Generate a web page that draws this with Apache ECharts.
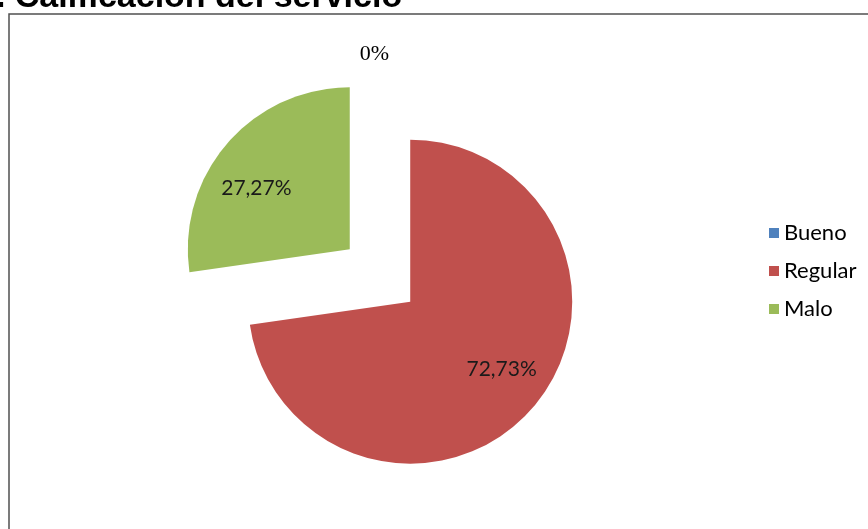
<!DOCTYPE html>
<html>
<head>
<meta charset="utf-8">
<script src="https://cdn.jsdelivr.net/npm/echarts@6/dist/echarts.min.js"></script>
<style>html,body{margin:0;padding:0;background:#fff;}#c{width:868px;height:529px;}</style>
</head>
<body>
<div id="c"></div>
<script>
const titleText = '1. Calificación del servicio';
const categories = ['Bueno', 'Regular', 'Malo'];
const values = [0, 72.73, 27.27];
const valueLabels = ['0%', '72,73%', '27,27%'];
const colors = ['#4F81BD', '#C0504D', '#9BBB59'];

const chart = echarts.init(document.getElementById('c'), null, {renderer: 'canvas'});

const mainData = categories.map((name, i) => ({
  name: name,
  value: values[i],
  selected: true,
  itemStyle: {color: colors[i]},
  label: i === 0 ? {
    show: true, position: 'outside', formatter: valueLabels[i],
    fontFamily: 'Liberation Serif', fontSize: 22, color: '#000'
  } : {show: false},
  labelLine: {show: false, length: 19, length2: -14}
}));

const labelData = categories.map((name, i) => ({
  name: name,
  value: values[i],
  selected: true,
  label: i === 0 ? {show: false} : {
    show: true, position: 'inside', formatter: valueLabels[i],
    fontFamily: 'Lato', fontSize: 21, color: '#1a1a1a'
  }
}));

// small nudges of the inside labels, mimicking the original placement
const labelNudge = {1: {dx: 6, dy: -6}, 2: {dx: -8, dy: 13}};

const option = {
  animation: false,
  backgroundColor: '#ffffff',
  graphic: [
    {type: 'rect', shape: {x: 9, y: 14, width: 900, height: 560},
     style: {fill: 'none', stroke: '#505050', lineWidth: 1.5}, silent: true},
    {type: 'text', x: -23, y: -2.5,
     style: {text: titleText, font: 'bold 34px "Liberation Sans"', fill: '#000', verticalAlign: 'middle'}, silent: true}
  ],
  legend: {
    orient: 'vertical',
    left: 764,
    top: 217,
    icon: 'rect',
    itemWidth: 10,
    itemHeight: 10,
    itemGap: 16,
    data: categories,
    textStyle: {fontFamily: 'Lato', fontSize: 22, color: '#000', lineHeight: 22},
    selectedMode: false
  },
  series: [
    {
      type: 'pie',
      center: [380, 275.5],
      radius: 162,
      startAngle: 90,
      clockwise: true,
      selectedMode: 'multiple',
      selectedOffset: 40,
      avoidLabelOverlap: false,
      itemStyle: {borderWidth: 0},
      emphasis: {disabled: true},
      data: mainData
    },
    {
      type: 'pie',
      center: [380, 275.5],
      radius: 220,
      startAngle: 90,
      clockwise: true,
      selectedMode: 'multiple',
      selectedOffset: 40,
      avoidLabelOverlap: false,
      silent: true,
      itemStyle: {color: 'rgba(0,0,0,0)', borderWidth: 0},
      emphasis: {disabled: true},
      labelLine: {show: false},
      labelLayout: function (p) { return labelNudge[p.dataIndex] || {}; },
      data: labelData
    }
  ]
};
chart.setOption(option);
</script>
</body>
</html>
